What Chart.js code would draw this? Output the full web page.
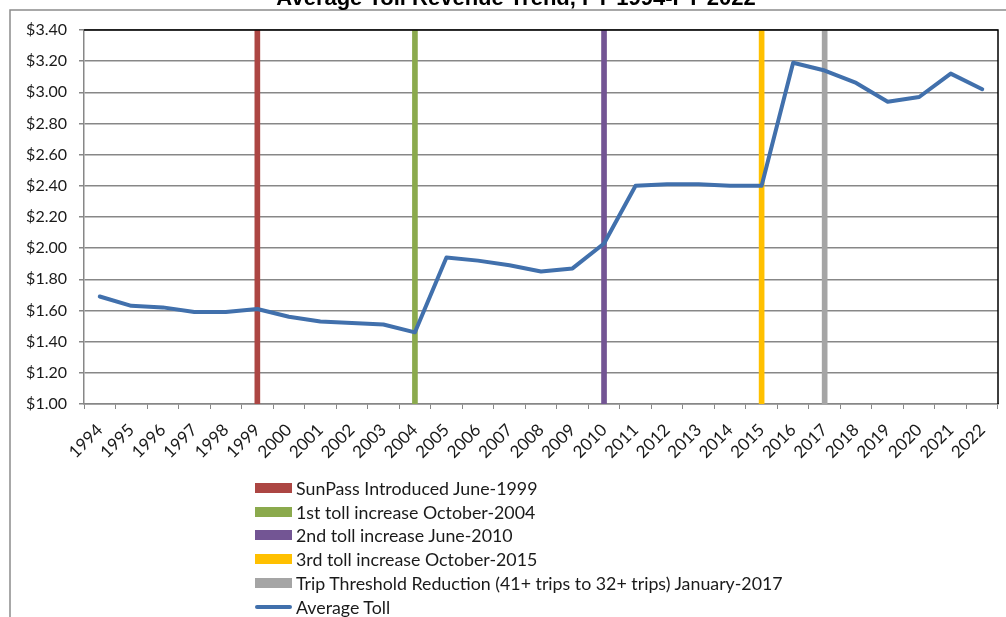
<!DOCTYPE html>
<html>
<head>
<meta charset="utf-8">
<title>Average Toll Revenue Trend, FY 1994-FY 2022</title>
<script src="https://cdn.jsdelivr.net/npm/chart.js@4.4.1/dist/chart.umd.min.js"></script>
<style>
  html, body { margin: 0; padding: 0; background: #fff; }
  #wrap { position: relative; width: 1006px; height: 617px; overflow: hidden; }
  #c { position: absolute; left: 0; top: 0; }
  #legend { position: absolute; left: 255px; top: 476px; font-family: Lato, "Noto Sans", sans-serif; font-size: 17.8px; color: #1a1a1a; }
  .item { display: flex; align-items: center; height: 23.8px; white-space: nowrap; }
  .sw { width: 37px; height: 10px; margin-right: 4px; flex: none; }
  .sw.line { height: 4px; border-radius: 2px; }
</style>
</head>
<body>
<div id="wrap">
  <canvas id="c" width="1006" height="617"></canvas>
  <div id="legend"></div>
</div>
<script>
// Fiscal years on the category axis
const years = ['1994','1995','1996','1997','1998','1999','2000','2001','2002','2003',
               '2004','2005','2006','2007','2008','2009','2010','2011','2012','2013',
               '2014','2015','2016','2017','2018','2019','2020','2021','2022'];

// Average toll per transaction ($)
const averageToll = [1.69, 1.63, 1.62, 1.59, 1.59, 1.61, 1.56, 1.53, 1.52, 1.51,
                     1.46, 1.94, 1.92, 1.89, 1.85, 1.87, 2.03, 2.40, 2.41, 2.41,
                     2.40, 2.40, 3.19, 3.14, 3.06, 2.94, 2.97, 3.12, 3.02];

// Milestone markers, drawn as thin full-height columns
const eventYears  = ['1999', '2004', '2010', '2015', '2017'];
const eventNames  = ['SunPass Introduced June-1999',
                     '1st toll increase October-2004',
                     '2nd toll increase June-2010',
                     '3rd toll increase October-2015',
                     'Trip Threshold Reduction (41+ trips to 32+ trips) January-2017'];
const eventColors = ['#AC4643', '#8BAA4D', '#735594', '#FFC000', '#A5A5A5'];

// Value axis range and step
const yMin = 1.00, yMax = 3.40, yStep = 0.20;

const titleText = 'Average Toll Revenue Trend, FY 1994-FY 2022';
const lineColor = '#4170AC';
const gridColor = '#878787';
const yTickFont = { family: 'Lato, "Noto Sans", sans-serif', size: 16 };
const xTickFont = { family: 'Lato, "Noto Sans", sans-serif', size: 17 };

const eventDatasets = eventYears.map((yr, i) => ({
  type: 'bar',
  label: eventNames[i],
  data: years.map(y => (y === yr ? yMax : null)),
  backgroundColor: eventColors[i],
  borderWidth: 0,
  barThickness: 5,
  grouped: false,
  order: 2
}));

const tollDataset = {
  type: 'line',
  label: 'Average Toll',
  data: averageToll,
  borderColor: lineColor,
  borderWidth: 4,
  pointRadius: 0,
  tension: 0,
  borderJoinStyle: 'round',
  borderCapStyle: 'round',
  order: 1
};

// Outer frame, title, and the dark top/right edges of the plot area
const decorations = {
  id: 'decorations',
  afterDatasetsDraw(chart) {
    const { ctx, chartArea: a } = chart;
    ctx.save();
    ctx.strokeStyle = '#000';
    ctx.lineWidth = 1.5;
    ctx.beginPath();
    ctx.moveTo(a.left, a.top);
    ctx.lineTo(a.right, a.top);
    ctx.lineTo(a.right, a.bottom);
    ctx.stroke();
    ctx.restore();
  },
  afterDraw(chart) {
    const { ctx } = chart;
    ctx.save();
    ctx.strokeStyle = '#8C8C8C';
    ctx.lineWidth = 1.5;
    ctx.beginPath();
    ctx.moveTo(10, 640);
    ctx.lineTo(10, 10);
    ctx.lineTo(1020, 10);
    ctx.stroke();
    ctx.fillStyle = '#000';
    ctx.font = 'bold 22px "Liberation Sans", Arial, sans-serif';
    ctx.textAlign = 'center';
    ctx.textBaseline = 'alphabetic';
    ctx.fillText(titleText, 516, 5);
    ctx.restore();
  }
};

const chart = new Chart(document.getElementById('c'), {
  type: 'bar',
  data: { labels: years, datasets: [...eventDatasets, tollDataset] },
  options: {
    responsive: false,
    animation: false,
    events: [],
    layout: { padding: { left: 0, right: 8, top: 30, bottom: 0 } },
    plugins: { legend: { display: false }, tooltip: { enabled: false }, title: { display: false } },
    scales: {
      x: {
        offset: true,
        grid: { offset: true, drawOnChartArea: false, drawTicks: true, tickLength: 5, color: gridColor, lineWidth: 1 },
        border: { color: gridColor, width: 1.5 },
        ticks: { autoSkip: false, minRotation: 45, maxRotation: 45, font: xTickFont, color: '#1a1a1a', padding: 11 },
        afterFit(scale) {
          scale.height = 213;
          scale.paddingLeft = 0;
          scale.paddingRight = 0;
        }
      },
      y: {
        min: yMin,
        max: yMax,
        grid: { color: gridColor, lineWidth: 1.5, tickLength: 5 },
        border: { color: gridColor, width: 1.5 },
        ticks: {
          stepSize: yStep,
          font: yTickFont,
          color: '#1a1a1a',
          padding: 12,
          callback: v => '$' + Number(v).toFixed(2)
        },
        afterFit(scale) { scale.width = 84; }
      }
    }
  },
  plugins: [decorations]
});

// Legend list built from the chart's datasets
const legend = document.getElementById('legend');
chart.data.datasets.forEach(ds => {
  const row = document.createElement('div');
  row.className = 'item';
  const sw = document.createElement('span');
  sw.className = 'sw' + (ds.type === 'line' ? ' line' : '');
  sw.style.background = ds.type === 'line' ? ds.borderColor : ds.backgroundColor;
  const txt = document.createElement('span');
  txt.textContent = ds.label;
  row.appendChild(sw);
  row.appendChild(txt);
  legend.appendChild(row);
});
</script>
</body>
</html>
